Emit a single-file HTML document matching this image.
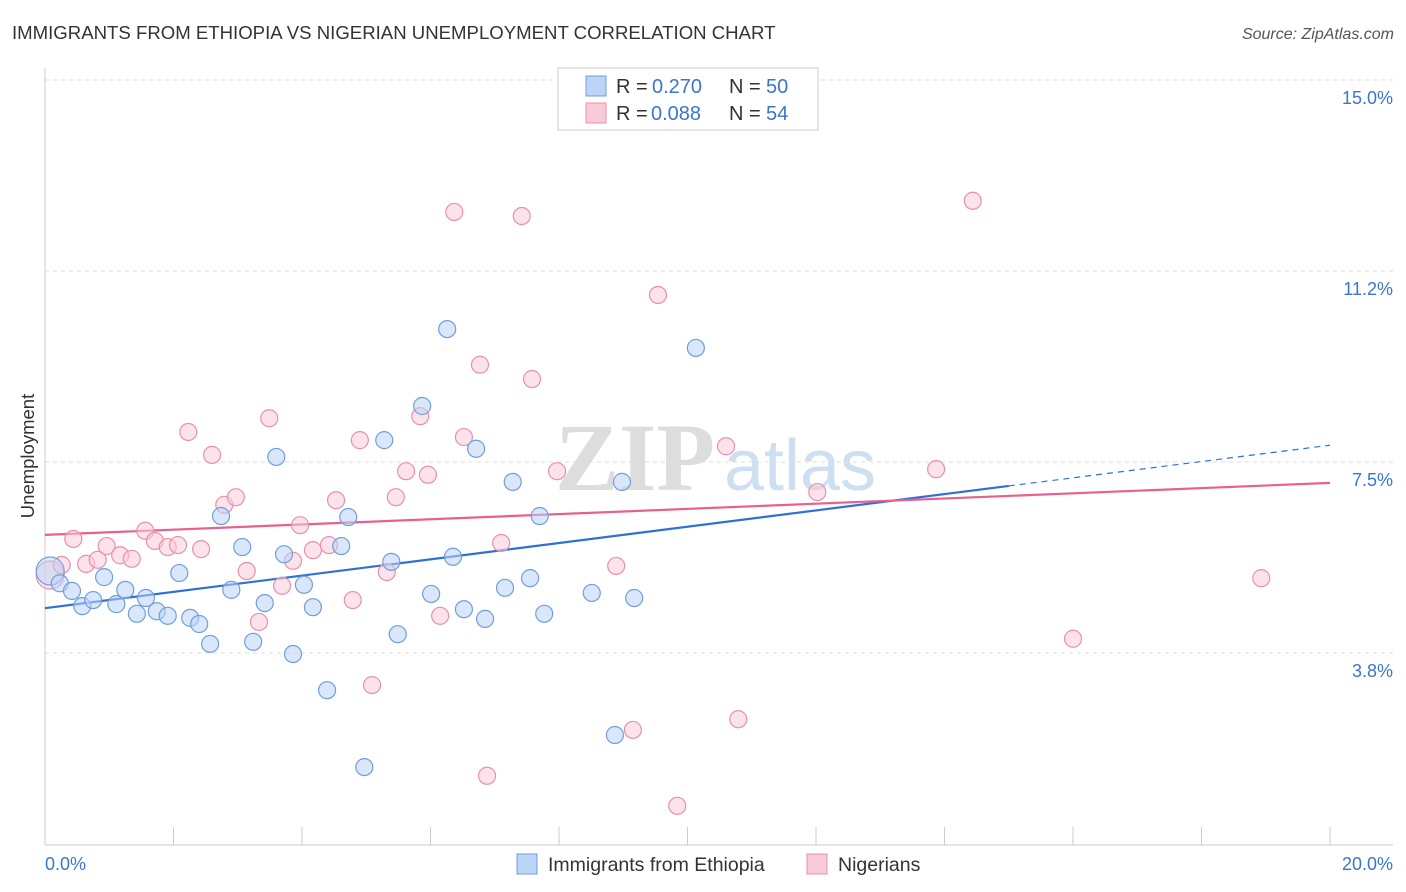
<!DOCTYPE html>
<html><head><meta charset="utf-8">
<style>
body{margin:0;background:#fff;font-family:"Liberation Sans",sans-serif;}
#wrap{position:relative;width:1406px;height:892px;overflow:hidden;}
</style></head>
<body>
<div id="wrap">
<svg id="chart" width="1406" height="892" xmlns="http://www.w3.org/2000/svg">
<text x="12" y="39" font-size="18.6" fill="#333">IMMIGRANTS FROM ETHIOPIA VS NIGERIAN UNEMPLOYMENT CORRELATION CHART</text>
<text x="1394" y="39" font-size="16" fill="#555" text-anchor="end" font-style="italic">Source: ZipAtlas.com</text>
<text x="34" y="456" font-size="18.5" fill="#333" text-anchor="middle" transform="rotate(-90 34 456)">Unemployment</text>
<g>
<text x="635" y="490" font-size="96" fill="#ddd" text-anchor="middle" font-family="Liberation Serif,serif" font-weight="bold">ZIP</text>
<text x="800" y="490" font-size="72" fill="#cfdff2" text-anchor="middle">atlas</text>
</g>
<g id="grid"></g><g id="axes"></g><g id="trends"></g><g id="points"></g>
<g>
<rect x="558" y="68" width="260" height="62" fill="#fff" stroke="#ccc"/>
<rect x="586" y="76" width="20" height="20" fill="#bcd4f5" stroke="#6e9fdc"/>
<g font-size="20">
<text x="616" y="93" fill="#333">R =</text><text x="652" y="93" fill="#3a76d0">0.270</text>
<text x="729" y="93" fill="#333">N =</text><text x="766" y="93" fill="#3a76d0">50</text></g>
<rect x="586" y="103" width="20" height="20" fill="#f9cbd8" stroke="#e891ab"/>
<g font-size="20">
<text x="616" y="120" fill="#333">R =</text><text x="651" y="120" fill="#3a76d0">0.088</text>
<text x="729" y="120" fill="#333">N =</text><text x="766" y="120" fill="#3a76d0">54</text></g>
</g>
<g>
<rect x="517" y="854" width="20" height="20" fill="#bcd4f5" stroke="#6e9fdc"/>
<text x="548" y="871" font-size="19.5" fill="#333">Immigrants from Ethiopia</text>
<rect x="807" y="854" width="20" height="20" fill="#f9cbd8" stroke="#e891ab"/>
<text x="838" y="871" font-size="19.5" fill="#333">Nigerians</text>
</g>
</svg>
</div>
<script>
const yTicks=[3.75,7.5,11.25,15];
const yTickLabels=["3.8%","7.5%","11.2%","15.0%"];
const xTicks=[0,2,4,6,8,10,12,14,16,18,20];
const xEndLabels=["0.0%","20.0%"];
const ethX=[0.08,0.23,0.42,0.58,0.75,0.92,1.11,1.25,1.43,1.57,1.74,1.91,2.09,2.26,2.40,2.57,2.74,2.90,3.07,3.24,3.42,3.60,3.72,3.86,4.03,4.17,4.39,4.61,4.72,4.97,5.28,5.39,5.49,5.87,6.01,6.26,6.35,6.52,6.71,6.85,7.16,7.28,7.55,7.70,7.77,8.51,8.87,8.98,9.17,10.13];
const ethY=[5.36,5.12,4.97,4.67,4.79,5.24,4.71,4.99,4.52,4.83,4.57,4.48,5.32,4.44,4.32,3.93,6.44,4.99,5.83,3.97,4.73,7.60,5.69,3.73,5.09,4.65,3.02,5.85,6.42,1.51,7.93,5.54,4.12,8.60,4.91,10.11,5.64,4.61,7.76,4.42,5.03,7.11,5.22,6.44,4.52,4.93,2.14,7.11,4.83,9.74];
const nigX=[0.08,0.26,0.44,0.64,0.82,0.96,1.17,1.35,1.56,1.71,1.91,2.07,2.23,2.43,2.60,2.79,2.97,3.14,3.33,3.49,3.69,3.86,3.97,4.17,4.42,4.53,4.79,4.90,5.09,5.32,5.46,5.62,5.84,5.96,6.15,6.37,6.52,6.77,6.88,7.10,7.42,7.58,7.97,8.89,9.15,9.54,9.84,10.60,10.79,12.02,13.87,14.44,16.00,18.93];
const nigY=[5.28,5.48,5.99,5.50,5.58,5.85,5.67,5.60,6.15,5.95,5.83,5.87,8.09,5.79,7.64,6.66,6.81,5.36,4.36,8.36,5.07,5.56,6.26,5.77,5.87,6.75,4.79,7.93,3.12,5.34,6.81,7.32,8.40,7.25,4.48,12.41,7.99,9.41,1.34,5.91,12.33,9.13,7.32,5.46,2.24,10.78,0.75,7.81,2.45,6.91,7.36,12.63,4.03,5.22];
const ethTrend=[4.63,0.16]; // intercept, slope
const nigTrend=[6.07,0.051];

const NS="http://www.w3.org/2000/svg";
const xs=v=>45+v*64.25;
const ys=v=>844-v*50.93;
function mk(tag,attrs,parent){const e=document.createElementNS(NS,tag);for(const k in attrs)e.setAttribute(k,attrs[k]);document.getElementById(parent).appendChild(e);return e;}

yTicks.forEach((t,i)=>{
 const l=mk('line',{x1:45,x2:1393,y1:ys(t),y2:ys(t),stroke:'#ddd','stroke-dasharray':'4,4'},'grid');
 
 
 const tx=mk('text',{x:1393,y:ys(t)+24,'font-size':18,fill:'#3a76d0','text-anchor':'end'},'grid');
 tx.textContent=yTickLabels[i];
 
 
});
const yax=mk('line',{x1:45,x2:45,y1:68,y2:845,stroke:'#ccc'},'axes');


const xax=mk('line',{x1:45,x2:1393,y1:845,y2:845,stroke:'#ccc'},'axes');


xTicks.forEach(t=>{
 const l=mk('line',{x1:xs(t),x2:xs(t),y1:827,y2:845,stroke:'#ccc'},'axes');
 
 
});
const xl0=mk('text',{x:45,y:870,'font-size':18,fill:'#3a76d0'},'axes');xl0.textContent=xEndLabels[0];


const xl1=mk('text',{x:1393,y:870,'font-size':18,fill:'#3a76d0','text-anchor':'end'},'axes');xl1.textContent=xEndLabels[1];



function pts(X,Y,fill,stroke,name){
 X.forEach((x,i)=>{
  const big=i===0;
  const c=mk('circle',{cx:xs(x),cy:ys(Y[i]),r:big?14:8.5,fill:fill,'fill-opacity':big?0.5:0.55,stroke:stroke,'stroke-width':1.2},'points');
  
  
 });
}
pts(nigX,nigY,'#f9cbd8','#e891ab','nigerians-point');
pts(ethX,ethY,'#bcd4f5','#6e9fdc','ethiopia-point');

const b1=mk('line',{x1:xs(0),y1:ys(ethTrend[0]),x2:xs(15),y2:ys(ethTrend[0]+ethTrend[1]*15),stroke:'#2f6fd6','stroke-width':2.2},'trends');


const b2=mk('line',{x1:xs(15),y1:ys(ethTrend[0]+ethTrend[1]*15),x2:xs(20),y2:ys(ethTrend[0]+ethTrend[1]*20),stroke:'#2f6fd6','stroke-width':1.2,'stroke-dasharray':'6,5'},'trends');


const p1=mk('line',{x1:xs(0),y1:ys(nigTrend[0]),x2:xs(20),y2:ys(nigTrend[0]+nigTrend[1]*20),stroke:'#e8608f','stroke-width':2.2},'trends');


</script>
</body></html>
